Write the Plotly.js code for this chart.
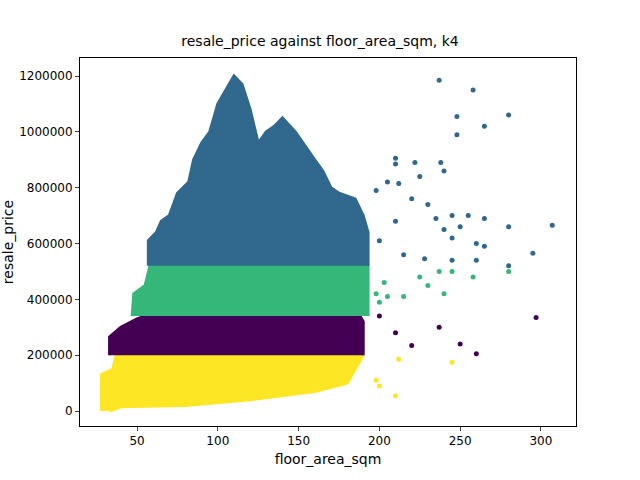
<html><head><script src="https://cdn.plot.ly/plotly-3.0.1.min.js"></script></head><body style="margin:0">
<div id="c" style="width:640px;height:480px"></div>
<script>
// Dense cluster envelopes
const yellowEnvX=[28,28,35,37,190,185,180,160,120,80,40,33];
const yellowEnvY=[0,130000,150000,200000,200000,150000,100000,70000,40000,20000,15000,0];
const purpleEnvX=[33,33,40,50,55,188,190,190];
const purpleEnvY=[200000,265000,300000,330000,340000,340000,320000,200000];
const greenEnvX=[47,48,55,58,193,193];
const greenEnvY=[340000,420000,450000,520000,520000,340000];
const blueEnvX=[57,57,62,65,70,75,82,85,90,95,100,105,110,115,120,125,130,135,140,148,155,160,165,170,175,185,190,193,193];
const blueEnvY=[520000,610000,640000,680000,700000,780000,820000,900000,960000,1000000,1100000,1150000,1200000,1170000,1080000,960000,1000000,1020000,1050000,1000000,940000,900000,860000,800000,780000,760000,700000,640000,520000];
// Scattered outliers
const blueX=[237,258,248,265,280,248,210,210,222,238,240,225,212,205,198,220,210,235,245,255,265,240,250,260,265,280,295,307,245,230,200,215,228,245,260,280];
const blueY=[1185000,1150000,1055000,1020000,1060000,990000,905000,885000,890000,890000,860000,840000,815000,820000,790000,760000,680000,690000,700000,700000,690000,650000,660000,600000,590000,660000,565000,665000,620000,740000,610000,560000,545000,540000,540000,520000];
const greenX=[198,205,215,225,237,245,258,280,240,230,203,200,190];
const greenY=[420000,410000,410000,480000,500000,500000,480000,500000,420000,450000,460000,390000,370000];
const purpleX=[237,250,260,297,220,210,200];
const purpleY=[300000,240000,205000,335000,235000,280000,340000];
const yellowX=[210,200,198,212,245,180,170];
const yellowY=[55000,90000,110000,185000,175000,130000,140000];
const cols={y:'#fde725',p:'#440154',g:'#35b779',b:'#31688e'};
function env(x,y,c){return {x:x,y:y,mode:'lines',fill:'toself',fillcolor:c,line:{width:3,color:c},hoverinfo:'skip'};}
function pts(x,y,c){return {x:x,y:y,mode:'markers',marker:{color:c,size:5},type:'scatter'};}
const data=[env(yellowEnvX,yellowEnvY,cols.y),pts(yellowX,yellowY,cols.y),
env(purpleEnvX,purpleEnvY,cols.p),pts(purpleX,purpleY,cols.p),
env(greenEnvX,greenEnvY,cols.g),pts(greenX,greenY,cols.g),
env(blueEnvX,blueEnvY,cols.b),pts(blueX,blueY,cols.b)];
Plotly.newPlot('c',data,{
 width:640,height:480,showlegend:false,paper_bgcolor:'white',plot_bgcolor:'white',
 margin:{l:80,r:64,t:58,b:54},
 font:{family:'DejaVu Sans',size:12,color:'black'},
 title:{text:'resale_price against floor_area_sqm, k4',x:0.5,xanchor:'center',y:0.925,font:{size:14}},
 xaxis:{range:[14.7,321.7],tickvals:[50,100,150,200,250,300],showgrid:false,zeroline:false,showline:true,mirror:true,linecolor:'black',ticks:'outside',ticklen:4,title:{text:'floor_area_sqm',standoff:6}},
 yaxis:{range:[-53700,1264500],tickvals:[0,200000,400000,600000,800000,1000000,1200000],tickformat:'d',showgrid:false,zeroline:false,showline:true,mirror:true,linecolor:'black',ticks:'outside',ticklen:4,title:{text:'resale_price',standoff:2}}
},{displayModeBar:false});
</script></body></html>
